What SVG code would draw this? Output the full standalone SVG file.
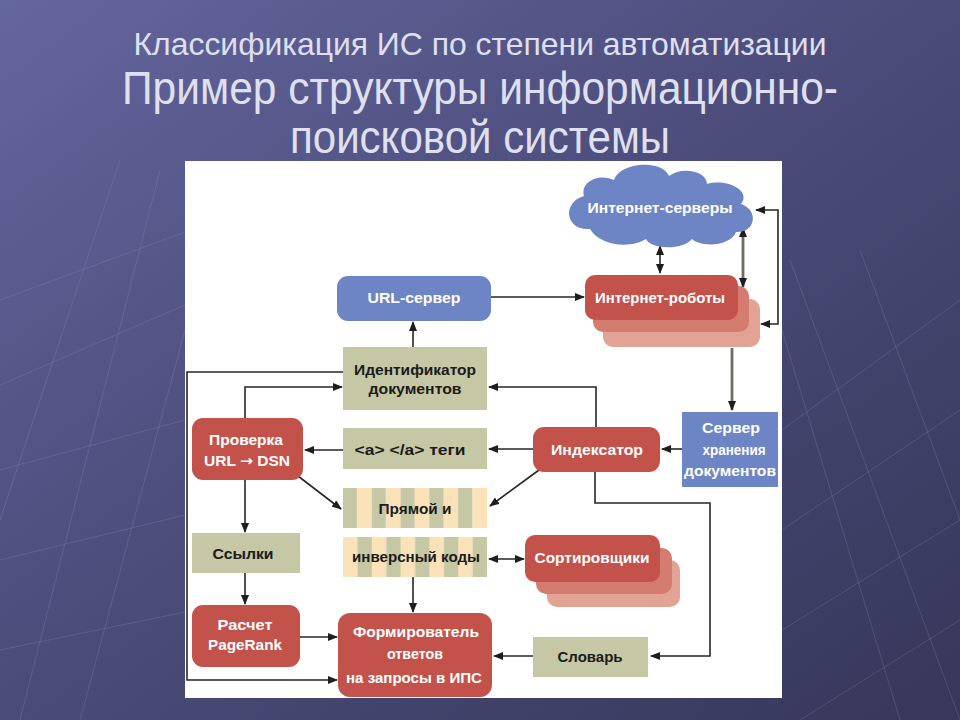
<svg xmlns="http://www.w3.org/2000/svg" width="960" height="720" viewBox="0 0 960 720">
<defs>
<linearGradient id="bg" x1="0" y1="0" x2="1" y2="1">
<stop offset="0" stop-color="#64669e"/>
<stop offset="0.5" stop-color="#4a4b78"/>
<stop offset="1" stop-color="#36375a"/>
</linearGradient>
<pattern id="stripesA" patternUnits="userSpaceOnUse" x="343" y="0" width="28.8" height="10">
<rect x="0" y="0" width="14.4" height="10" fill="#c6c7a5"/>
<rect x="14.4" y="0" width="14.4" height="10" fill="#fbe2b8"/>
</pattern>
<pattern id="stripesB" patternUnits="userSpaceOnUse" x="343" y="0" width="28.8" height="10">
<rect x="0" y="0" width="14.4" height="10" fill="#fbe2b8"/>
<rect x="14.4" y="0" width="14.4" height="10" fill="#c6c7a5"/>
</pattern>
<marker id="ah" markerUnits="userSpaceOnUse" markerWidth="10" markerHeight="8" refX="9" refY="4" orient="auto-start-reverse">
<path d="M0,0 L10,4 L0,8 Z" fill="#1e1e1e"/>
</marker>
</defs>
<style>
.title{font-family:"Liberation Sans","DejaVu Sans",sans-serif;fill:#dfe0ef;text-anchor:middle}
.lbl{font-family:"Liberation Sans","DejaVu Sans",sans-serif;font-weight:bold;font-size:14.5px;text-anchor:middle}
.w{fill:#ffffff}
.d{fill:#1b1b1b}
.blue{fill:#6e85c5}
.red{fill:#c3524b}
.red2{fill:#d47c70}
.red3{fill:#e3a394}
.kh{fill:#c6c7a5}
.ln{fill:none;stroke:#262626;stroke-width:1.6}
.gl{fill:none;stroke:#6d6d62;stroke-width:2.8}
.deco{stroke:#a4a6d2;stroke-width:1;opacity:0.22;fill:none}
</style>

<rect x="0" y="0" width="960" height="720" fill="url(#bg)"/>
<g class="deco">
<path d="M0,300 L185,232 M0,385 L185,305 M0,470 L185,420 M0,560 L185,515 M0,650 L185,612 M20,720 L160,170 M80,720 L185,330 M0,520 L120,160"/>
<path d="M782,430 L960,300 M782,530 L960,410 M782,630 L960,520 M800,720 L960,620 M790,260 L960,720 M860,250 L960,520 M782,330 L900,720"/>
</g>

<text class="title" x="480" y="55" font-size="32" textLength="693" lengthAdjust="spacingAndGlyphs">Классификация ИС по степени автоматизации</text>
<text class="title" x="480" y="104" font-size="47" textLength="716" lengthAdjust="spacingAndGlyphs">Пример структуры информационно-</text>
<text class="title" x="480" y="153" font-size="47" textLength="380" lengthAdjust="spacingAndGlyphs">поисковой системы</text>

<rect x="185" y="161" width="597" height="537" fill="#ffffff"/>

<g id="connectors">
<path class="ln" d="M413,347 V322" marker-end="url(#ah)"/>
<path class="ln" d="M491,297 H584" marker-end="url(#ah)"/>
<path class="ln" d="M660,246 V273" marker-start="url(#ah)" marker-end="url(#ah)"/>
<path class="gl" d="M743,228 V287" marker-start="url(#ah)" marker-end="url(#ah)"/>
<path class="ln" d="M761,324 H778 V210 H756" marker-start="url(#ah)" marker-end="url(#ah)"/>
<path class="gl" d="M732,348 V410" marker-end="url(#ah)"/>
<path class="ln" d="M682,449 H662" marker-end="url(#ah)"/>
<path class="ln" d="M533,449 H489" marker-end="url(#ah)"/>
<path class="ln" d="M596,427 V387 H489" marker-end="url(#ah)"/>
<path class="ln" d="M539,470 L490,506" marker-end="url(#ah)"/>
<path class="ln" d="M595,472 V503 H710 V656 H651" marker-end="url(#ah)"/>
<path class="ln" d="M533,656 H494" marker-end="url(#ah)"/>
<path class="ln" d="M489,559 H524" marker-start="url(#ah)" marker-end="url(#ah)"/>
<path class="ln" d="M413,577 V612" marker-end="url(#ah)"/>
<path class="ln" d="M300,637 H337" marker-end="url(#ah)"/>
<path class="ln" d="M245,573 V604" marker-end="url(#ah)"/>
<path class="ln" d="M245,480 V532" marker-end="url(#ah)"/>
<path class="ln" d="M343,450 H305" marker-end="url(#ah)"/>
<path class="ln" d="M245,418 V387 H342" marker-end="url(#ah)"/>
<path class="ln" d="M343,372 H187 V680 H337" marker-end="url(#ah)"/>
<path class="ln" d="M298,476 L341,509" marker-end="url(#ah)"/>
</g>

<g id="internet-servers">
<path class="blue" d="M590,229 C566,231 561,203 584,196 C580,181 600,173 614,180 C620,162 662,159 669,176 C682,166 707,171 707,184 C727,178 752,191 741,204 C759,210 756,233 736,232 C731,246 702,248 692,239 C682,251 650,249 646,239 C630,249 600,246 590,229 Z"/>
<text class="lbl w" x="660" y="213" textLength="145" lengthAdjust="spacingAndGlyphs">Интернет-серверы</text>
</g>

<g id="url-server">
<rect class="blue" x="337" y="276" width="154" height="45" rx="11"/>
<text class="lbl w" x="414" y="303" textLength="93" lengthAdjust="spacingAndGlyphs">URL-сервер</text>
</g>

<g id="internet-robots">
<rect class="red3" x="603" y="299" width="157" height="48" rx="10"/>
<rect class="red2" x="593" y="286" width="156" height="46" rx="10"/>
<rect class="red" x="585" y="275" width="153" height="45" rx="10"/>
<text class="lbl w" x="660" y="303" textLength="130" lengthAdjust="spacingAndGlyphs">Интернет-роботы</text>
</g>

<g id="doc-id">
<rect class="kh" x="343" y="347" width="144" height="63"/>
<text class="lbl d" x="415" y="375" textLength="122" lengthAdjust="spacingAndGlyphs">Идентификатор</text>
<text class="lbl d" x="415" y="394" textLength="93" lengthAdjust="spacingAndGlyphs">документов</text>
</g>

<g id="url-check">
<rect class="red" x="192" y="418" width="111" height="62" rx="11"/>
<text class="lbl w" x="246" y="445" textLength="74" lengthAdjust="spacingAndGlyphs">Проверка</text>
<text class="lbl w" x="247" y="466" textLength="86" lengthAdjust="spacingAndGlyphs">URL <tspan font-family="DejaVu Sans, sans-serif">→</tspan> DSN</text>
</g>

<g id="a-tags">
<rect class="kh" x="343" y="428" width="144" height="41"/>
<text class="lbl d" x="410" y="455" textLength="111" lengthAdjust="spacingAndGlyphs">&lt;a&gt; &lt;/a&gt; теги</text>
</g>

<g id="indexer">
<rect class="red" x="533" y="427" width="127" height="45" rx="11"/>
<text class="lbl w" x="597" y="455" textLength="92" lengthAdjust="spacingAndGlyphs">Индексатор</text>
</g>

<g id="doc-storage">
<rect class="blue" x="682" y="412" width="96" height="75"/>
<text class="lbl w" x="731" y="433" textLength="58" lengthAdjust="spacingAndGlyphs">Сервер</text>
<text class="lbl w" x="734" y="455" textLength="63" lengthAdjust="spacingAndGlyphs">хранения</text>
<text class="lbl w" x="730" y="476" textLength="92" lengthAdjust="spacingAndGlyphs">документов</text>
</g>

<g id="direct-code">
<rect x="343" y="488" width="144" height="40" fill="url(#stripesA)"/>
<text class="lbl d" x="415" y="514" textLength="73" lengthAdjust="spacingAndGlyphs">Прямой и</text>
</g>

<g id="inverse-code">
<rect x="343" y="537" width="144" height="40" fill="url(#stripesB)"/>
<text class="lbl d" x="416" y="562" textLength="128" lengthAdjust="spacingAndGlyphs">инверсный коды</text>
</g>

<g id="sorters">
<rect class="red3" x="547" y="560" width="133" height="47" rx="10"/>
<rect class="red2" x="536" y="548" width="136" height="46" rx="10"/>
<rect class="red" x="525" y="535" width="135" height="47" rx="10"/>
<text class="lbl w" x="592" y="563" textLength="115" lengthAdjust="spacingAndGlyphs">Сортировщики</text>
</g>

<g id="links">
<rect class="kh" x="192" y="533" width="108" height="40"/>
<text class="lbl d" x="243" y="559" textLength="61" lengthAdjust="spacingAndGlyphs">Ссылки</text>
</g>

<g id="pagerank">
<rect class="red" x="192" y="605" width="108" height="62" rx="11"/>
<text class="lbl w" x="245" y="630" textLength="55" lengthAdjust="spacingAndGlyphs">Расчет</text>
<text class="lbl w" x="245" y="650" textLength="74" lengthAdjust="spacingAndGlyphs">PageRank</text>
</g>

<g id="answer-builder">
<rect class="red" x="338" y="613" width="154" height="84" rx="12"/>
<text class="lbl w" x="416" y="637" textLength="126" lengthAdjust="spacingAndGlyphs">Формирователь</text>
<text class="lbl w" x="415" y="659" textLength="56" lengthAdjust="spacingAndGlyphs">ответов</text>
<text class="lbl w" x="414" y="683" textLength="136" lengthAdjust="spacingAndGlyphs">на запросы в ИПС</text>
</g>

<g id="dictionary">
<rect class="kh" x="533" y="637" width="115" height="40"/>
<text class="lbl d" x="590" y="662" textLength="65" lengthAdjust="spacingAndGlyphs">Словарь</text>
</g>
</svg>
